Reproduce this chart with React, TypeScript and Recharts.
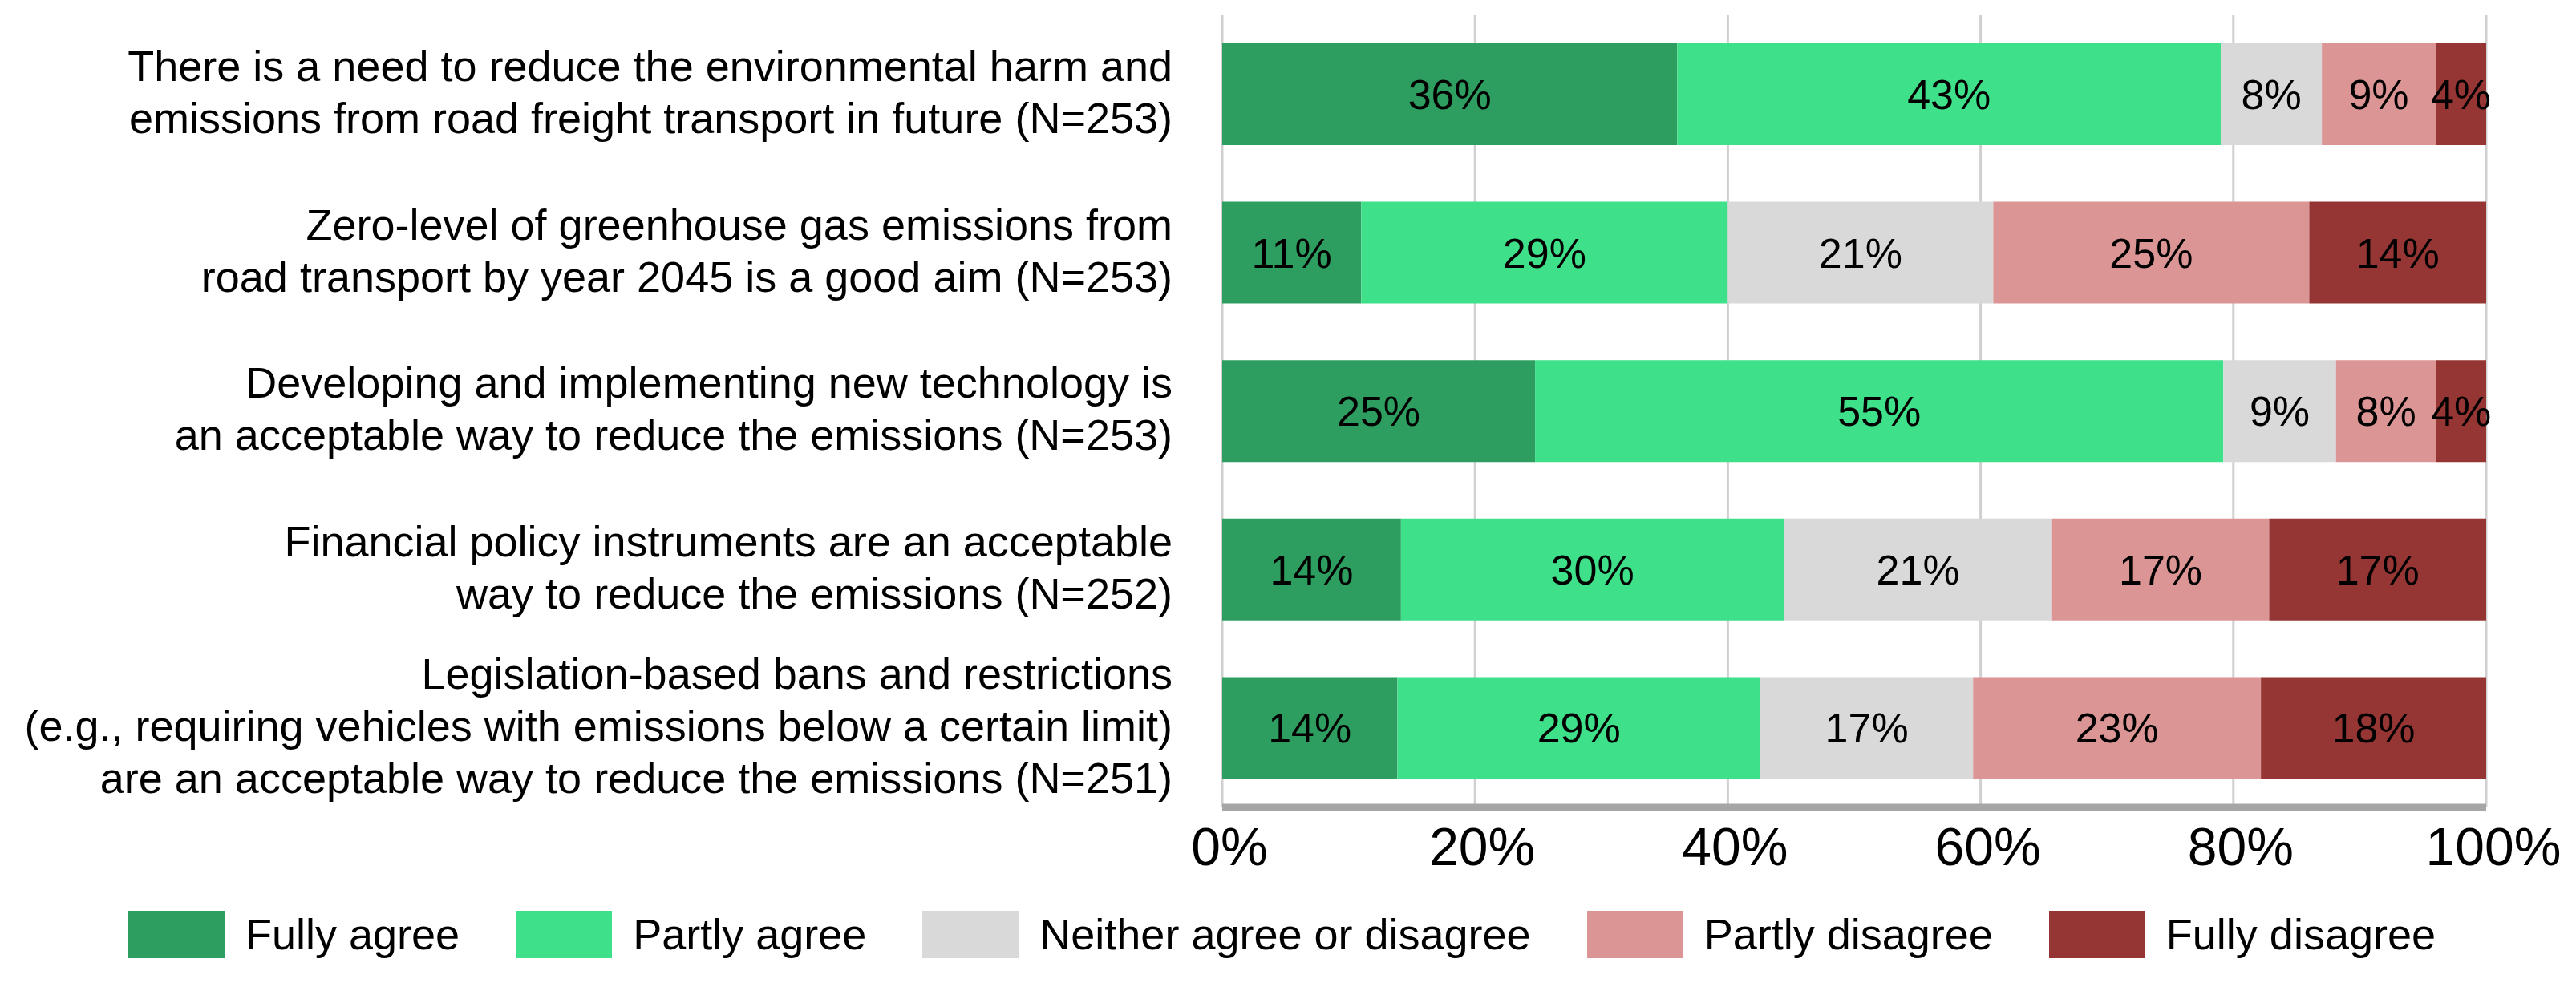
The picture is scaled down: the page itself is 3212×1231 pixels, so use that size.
import { BarChart, Bar, XAxis, YAxis, CartesianGrid, Legend, LabelList } from 'recharts'

const statements = [
  ['There is a need to reduce the environmental harm and', 'emissions from road freight transport in future (N=253)'],
  ['Zero-level of greenhouse gas emissions from', 'road transport by year 2045 is a good aim (N=253)'],
  ['Developing and implementing new technology is', 'an acceptable way to reduce the emissions (N=253)'],
  ['Financial policy instruments are an acceptable', 'way to reduce the emissions (N=252)'],
  [
    'Legislation-based bans and restrictions',
    '(e.g., requiring vehicles with emissions below a certain limit)',
    'are an acceptable way to reduce the emissions (N=251)',
  ],
]

const fullyAgree = [36, 11, 25, 14, 14]
const partlyAgree = [43, 29, 55, 30, 29]
const neither = [8, 21, 9, 21, 17]
const partlyDisagree = [9, 25, 8, 17, 23]
const fullyDisagree = [4, 14, 4, 17, 18]

const xTicks = [0, 0.2, 0.4, 0.6, 0.8, 1]

const SERIES = [
  { key: 'fully', name: 'Fully agree', color: '#2E9E60', values: fullyAgree },
  { key: 'partly', name: 'Partly agree', color: '#3FE08A', values: partlyAgree },
  { key: 'neither', name: 'Neither agree or disagree', color: '#D9D9D9', values: neither },
  { key: 'pdis', name: 'Partly disagree', color: '#DB9594', values: partlyDisagree },
  { key: 'fdis', name: 'Fully disagree', color: '#963634', values: fullyDisagree },
]

const data = statements.map((lines, i) => {
  const row: Record<string, unknown> = { id: String(i), lines }
  SERIES.forEach(s => { row[s.key] = s.values[i] })
  return row
})

const FONT = '"Liberation Sans", Arial, sans-serif'

function StatementTick(props: any) {
  const { x, y, payload } = props
  const lines: string[] = statements[Number(payload.value)] ?? []
  const lh = 65
  const startY = y - ((lines.length - 1) * lh) / 2 - 3
  return (
    <text x={x} y={startY} textAnchor="end" fontFamily={FONT} fontSize={54} fill="#000">
      {lines.map((l, i) => (
        <tspan key={i} x={x} y={startY + i * lh} dy="0.35em">{l}</tspan>
      ))}
    </text>
  )
}

function LegendContent() {
  return (
    <div style={{ display: 'flex', alignItems: 'center', paddingLeft: 160, height: 90, fontFamily: FONT, fontSize: 54 }}>
      {SERIES.map(s => (
        <div key={s.key} style={{ display: 'flex', alignItems: 'center', marginRight: 70 }}>
          <div style={{ width: 120, height: 59, background: s.color, marginRight: 26 }} />
          <span style={{ color: '#000', whiteSpace: 'nowrap' }}>{s.name}</span>
        </div>
      ))}
    </div>
  )
}

export default function App() {
  return (
    <div style={{ position: 'absolute', left: 0, top: 0, background: '#fff' }}>
      <BarChart
        width={3212}
        height={1231}
        data={data}
        layout="vertical"
        stackOffset="expand"
        margin={{ top: 19, right: 112, bottom: 21, left: 0 }}
      >
        <CartesianGrid horizontal={false} stroke="#d0d0d0" strokeWidth={3} />
        <XAxis
          type="number"
          domain={[0, 1]}
          ticks={xTicks}
          tickFormatter={(v: number) => `${Math.round(v * 100)}%`}
          tickLine={false}
          tickSize={0}
          tickMargin={25}
          height={113}
          axisLine={{ stroke: '#a6a6a6', strokeWidth: 9 }}
          tick={{ fontFamily: FONT, fontSize: 66, fill: '#000', dx: 9 }}
        />
        <YAxis
          type="category"
          dataKey="id"
          width={1524}
          axisLine={false}
          tickLine={false}
          tickSize={0}
          tickMargin={62}
          tick={<StatementTick />}
        />
        <Legend verticalAlign="bottom" content={<LegendContent />} wrapperStyle={{ left: 0, width: 3212, height: 90 }} />
        {SERIES.map(s => (
          <Bar key={s.key} dataKey={s.key} name={s.name} stackId="a" fill={s.color} barSize={127} isAnimationActive={false}>
            <LabelList
              dataKey={s.key}
              position="center"
              formatter={(v: any) => `${v}%`}
              style={{ fontFamily: FONT, fontSize: 52, fill: '#000' }}
            />
          </Bar>
        ))}
      </BarChart>
    </div>
  )
}
